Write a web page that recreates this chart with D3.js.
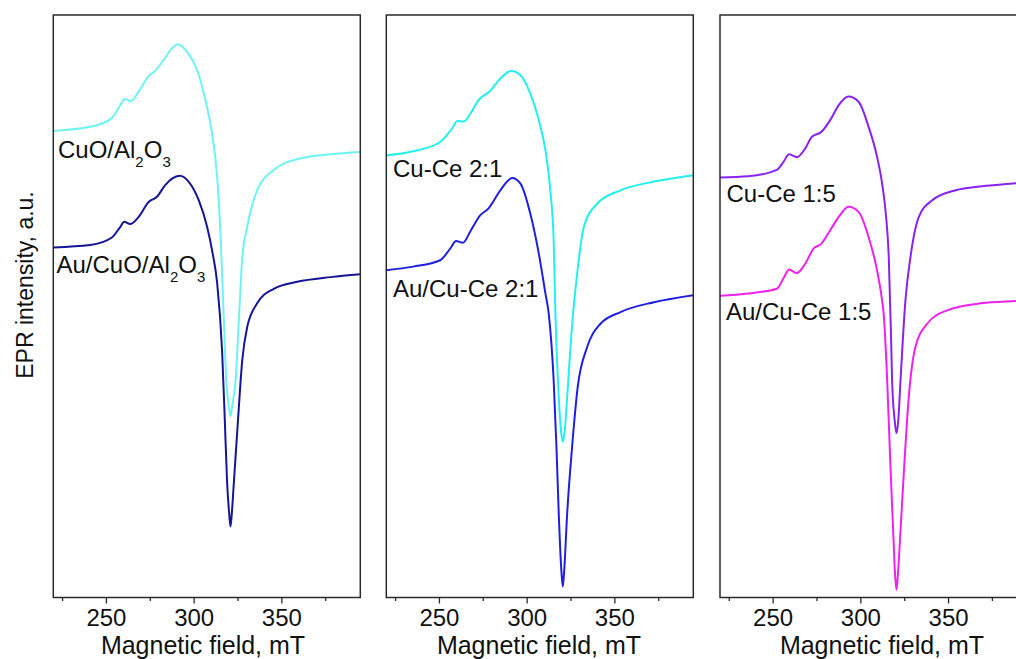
<!DOCTYPE html>
<html>
<head>
<meta charset="utf-8">
<script src="https://cdn.jsdelivr.net/npm/d3@7"></script>
<style>
  html, body { margin: 0; padding: 0; background: #fff; }
  svg { display: block; }
  text { font-family: "Liberation Sans", Arial, sans-serif; fill: #111; }
</style>
</head>
<body>
<svg id="chart" width="1016" height="659"></svg>
<script>
// EPR spectra: magnetic field (mT) vs derivative intensity (a.u., offset for stacking)

const majorTicks = [250, 300, 350];
const minorTicks = [225, 275, 325, 375];
const xTitle = "Magnetic field, mT";
const yTitle = "EPR intensity, a.u.";

// Panel 1
const cuoAlField = [220, 241.0, 253.4, 258.1, 261.0, 264.2, 268.6, 274.3, 278.1, 282.9, 287.7, 291.1, 296.2, 301.9, 306.7, 310.5, 313.4, 315.3, 316.8, 318.7, 319.9, 321.0, 322.1, 323.8, 325.7, 327.7, 330.5, 336.2, 345.7, 361.0, 378.1, 395.0];
const cuoAlInt   = [80.1, 80.8, 82.3, 84.5, 85.6, 85.2, 86.8, 89.5, 90.4, 92.3, 94.3, 95.0, 93.7, 90.6, 85.4, 79.7, 72.2, 62.5, 51.0, 36.8, 33.2, 31.1, 33.2, 36.8, 47.2, 58.2, 63.6, 69.9, 73.4, 75.4, 76.1, 76.5];

const auCuoAlField = [220, 241.0, 253.4, 258.1, 260.4, 263.8, 268.6, 274.3, 279.1, 283.8, 287.7, 292.0, 297.1, 302.9, 307.7, 310.7, 313.4, 316.2, 317.7, 319.1, 320.2, 321.0, 321.8, 322.9, 325.4, 327.7, 330.5, 336.2, 345.7, 359.1, 378.1, 395.0];
const auCuoAlInt   = [60.1, 60.5, 61.8, 63.6, 64.5, 64.1, 65.3, 67.9, 68.8, 70.8, 71.9, 72.4, 71.4, 68.2, 63.6, 59.3, 54.0, 42.4, 31.0, 19.6, 14.6, 12.2, 14.6, 19.6, 31.0, 40.7, 46.4, 50.5, 53.0, 54.2, 55.0, 55.5];

// Panel 2
const cuCe21Field = [220, 235.4, 250.7, 257.4, 260.6, 264.0, 267.8, 272.6, 279.3, 285.0, 291.3, 296.4, 302.1, 306.9, 310.7, 313.5, 315.4, 316.4, 318.3, 319.6, 320.6, 321.7, 323.1, 325.9, 328.8, 332.6, 340.2, 353.5, 372.6, 395.0];
const cuCe21Int   = [75.9, 76.6, 78.2, 80.5, 81.8, 81.7, 83.0, 85.4, 87.0, 89.1, 90.4, 89.7, 86.5, 82.0, 76.8, 69.9, 61.3, 48.8, 34.4, 28.6, 26.7, 28.6, 34.4, 46.7, 55.6, 63.6, 67.6, 69.9, 71.4, 72.5];

const auCuCe21Field = [220, 235.4, 250.7, 256.4, 259.8, 263.7, 267.8, 273.5, 278.3, 285.0, 291.7, 296.4, 302.1, 306.9, 310.7, 312.6, 315.4, 317.0, 318.3, 319.8, 320.6, 321.4, 323.1, 325.9, 329.1, 334.5, 342.1, 353.5, 372.6, 395.0];
const auCuCe21Int   = [56.2, 56.8, 57.9, 59.9, 61.2, 60.9, 62.8, 65.6, 66.8, 69.9, 72.0, 71.1, 65.9, 59.1, 52.2, 48.7, 37.3, 25.8, 14.4, 4.6, 1.9, 4.6, 14.4, 25.8, 36.1, 43.0, 47.0, 49.0, 50.7, 51.9];

// Panel 3
const cuCe15Field = [220, 236.2, 252.4, 256.2, 259.4, 263.8, 268.6, 272.4, 277.7, 282.9, 287.6, 293.3, 299.0, 304.7, 309.5, 312.4, 314.7, 316.2, 317.5, 318.1, 319.6, 320.6, 321.6, 322.9, 325.7, 328.6, 333.3, 341.0, 354.3, 369.5, 388.6, 395.0];
const cuCe15Int   = [72.1, 72.3, 73.4, 74.8, 76.1, 75.6, 77.1, 79.1, 79.9, 82.0, 84.5, 86.0, 85.1, 80.8, 75.7, 71.1, 65.3, 58.5, 44.7, 37.3, 30.3, 28.2, 30.3, 37.3, 51.0, 58.5, 65.3, 68.2, 69.9, 70.6, 71.1, 71.3];

const auCuCe15Field = [220, 236.2, 252.4, 256.2, 259.4, 263.8, 268.6, 273.3, 277.7, 282.9, 287.6, 293.3, 299.0, 304.7, 309.5, 312.4, 313.3, 315.3, 317.1, 318.7, 319.8, 320.6, 321.4, 322.9, 325.1, 327.6, 331.4, 338.1, 349.5, 368.6, 389.1, 395.0];
const auCuCe15Int   = [51.8, 52.2, 53.0, 54.8, 56.3, 55.7, 57.3, 59.9, 60.7, 63.1, 65.3, 67.1, 66.2, 61.9, 56.2, 51.0, 48.7, 37.3, 23.0, 11.5, 3.9, 1.3, 3.9, 11.5, 23.0, 34.4, 43.0, 47.0, 49.3, 50.5, 50.9, 51.0];

const panels = [
  { series: [
      { name: "CuO/Al2O3", x: cuoAlField, y: cuoAlInt, color: "#6cf3f3" },
      { name: "Au/CuO/Al2O3", x: auCuoAlField, y: auCuoAlInt, color: "#15159a" } ],
    labels: [
      { parts: [["CuO/Al", 0], ["2", 1], ["O", 0], ["3", 1]], lx: 58, ly: 158 },
      { parts: [["Au/CuO/Al", 0], ["2", 1], ["O", 0], ["3", 1]], lx: 56.5, ly: 273 } ],
    titleX: 203 },
  { series: [
      { name: "Cu-Ce 2:1", x: cuCe21Field, y: cuCe21Int, color: "#22f0f0" },
      { name: "Au/Cu-Ce 2:1", x: auCuCe21Field, y: auCuCe21Int, color: "#1f1fe4" } ],
    labels: [
      { parts: [["Cu-Ce 2:1", 0]], lx: 393, ly: 177 },
      { parts: [["Au/Cu-Ce 2:1", 0]], lx: 393, ly: 297 } ],
    titleX: 539 },
  { series: [
      { name: "Cu-Ce 1:5", x: cuCe15Field, y: cuCe15Int, color: "#8a22ee" },
      { name: "Au/Cu-Ce 1:5", x: auCuCe15Field, y: auCuCe15Int, color: "#f020f0" } ],
    labels: [
      { parts: [["Cu-Ce 1:5", 0]], lx: 726.5, ly: 201.5 },
      { parts: [["Au/Cu-Ce 1:5", 0]], lx: 726, ly: 320 } ],
    titleX: 882 }
];

const svg = d3.select("#chart");
const panelLeft = [53.3, 386.3, 720];
const panelW = 307, plotTop = 15, plotBottom = 597.5;

const y = d3.scaleLinear().domain([0, 100]).range([plotBottom, plotTop]);

panels.forEach((p, i) => {
  const x0 = panelLeft[i];
  const x = d3.scaleLinear().domain([220, 395]).range([x0, x0 + panelW]);
  const g = svg.append("g");

  const clipId = "clip" + i;
  svg.append("clipPath").attr("id", clipId)
    .append("rect").attr("x", x0).attr("y", plotTop).attr("width", panelW).attr("height", plotBottom - plotTop);

  const line = d3.line().curve(d3.curveMonotoneX)
    .x(d => x(d[0])).y(d => y(d[1]));

  p.series.forEach(s => {
    const pts = s.x.map((v, k) => [v, s.y[k]]);
    g.append("path").datum(pts)
      .attr("clip-path", `url(#${clipId})`)
      .attr("fill", "none").attr("stroke", s.color)
      .attr("stroke-width", 2).attr("stroke-linejoin", "round")
      .attr("d", line);
  });

  // frame
  g.append("rect").attr("x", x0).attr("y", plotTop)
    .attr("width", panelW).attr("height", plotBottom - plotTop)
    .attr("fill", "none").attr("stroke", "#2b2b2b").attr("stroke-width", 1.5);

  // minor ticks
  const minor = g.append("g").attr("transform", `translate(0,${plotBottom})`)
    .call(d3.axisBottom(x).tickValues(minorTicks).tickSize(3.5).tickFormat(""));
  minor.select(".domain").remove();
  minor.selectAll("line").attr("stroke", "#2b2b2b").attr("stroke-width", 1.3);

  // major ticks with labels
  const major = g.append("g").attr("transform", `translate(0,${plotBottom})`)
    .call(d3.axisBottom(x).tickValues(majorTicks).tickSize(6).tickFormat(d3.format("d")));
  major.select(".domain").remove();
  major.selectAll("line").attr("stroke", "#2b2b2b").attr("stroke-width", 1.3);
  major.selectAll("text")
    .attr("y", 28.5).attr("dy", 0)
    .style("font-size", "24px").style("font-family", '"Liberation Sans", Arial, sans-serif')
    .attr("fill", "#111");

  // axis title
  g.append("text").attr("x", p.titleX).attr("y", 654)
    .attr("text-anchor", "middle").style("font-size", "25px")
    .text(xTitle);

  // sample labels
  p.labels.forEach(l => {
    const t = g.append("text").attr("x", l.lx).attr("y", l.ly).style("font-size", "24px");
    let sub = false;
    l.parts.forEach(([txt, isSub]) => {
      const ts = t.append("tspan").text(txt);
      if (isSub && !sub) { ts.attr("dy", 9).style("font-size", "15px"); sub = true; }
      else if (isSub && sub) { ts.style("font-size", "15px"); }
      else if (!isSub && sub) { ts.attr("dy", -9); sub = false; }
    });
  });
});

svg.append("text")
  .attr("transform", "translate(33,285) rotate(-90)")
  .attr("text-anchor", "middle").style("font-size", "23px")
  .text(yTitle);
</script>
</body>
</html>
